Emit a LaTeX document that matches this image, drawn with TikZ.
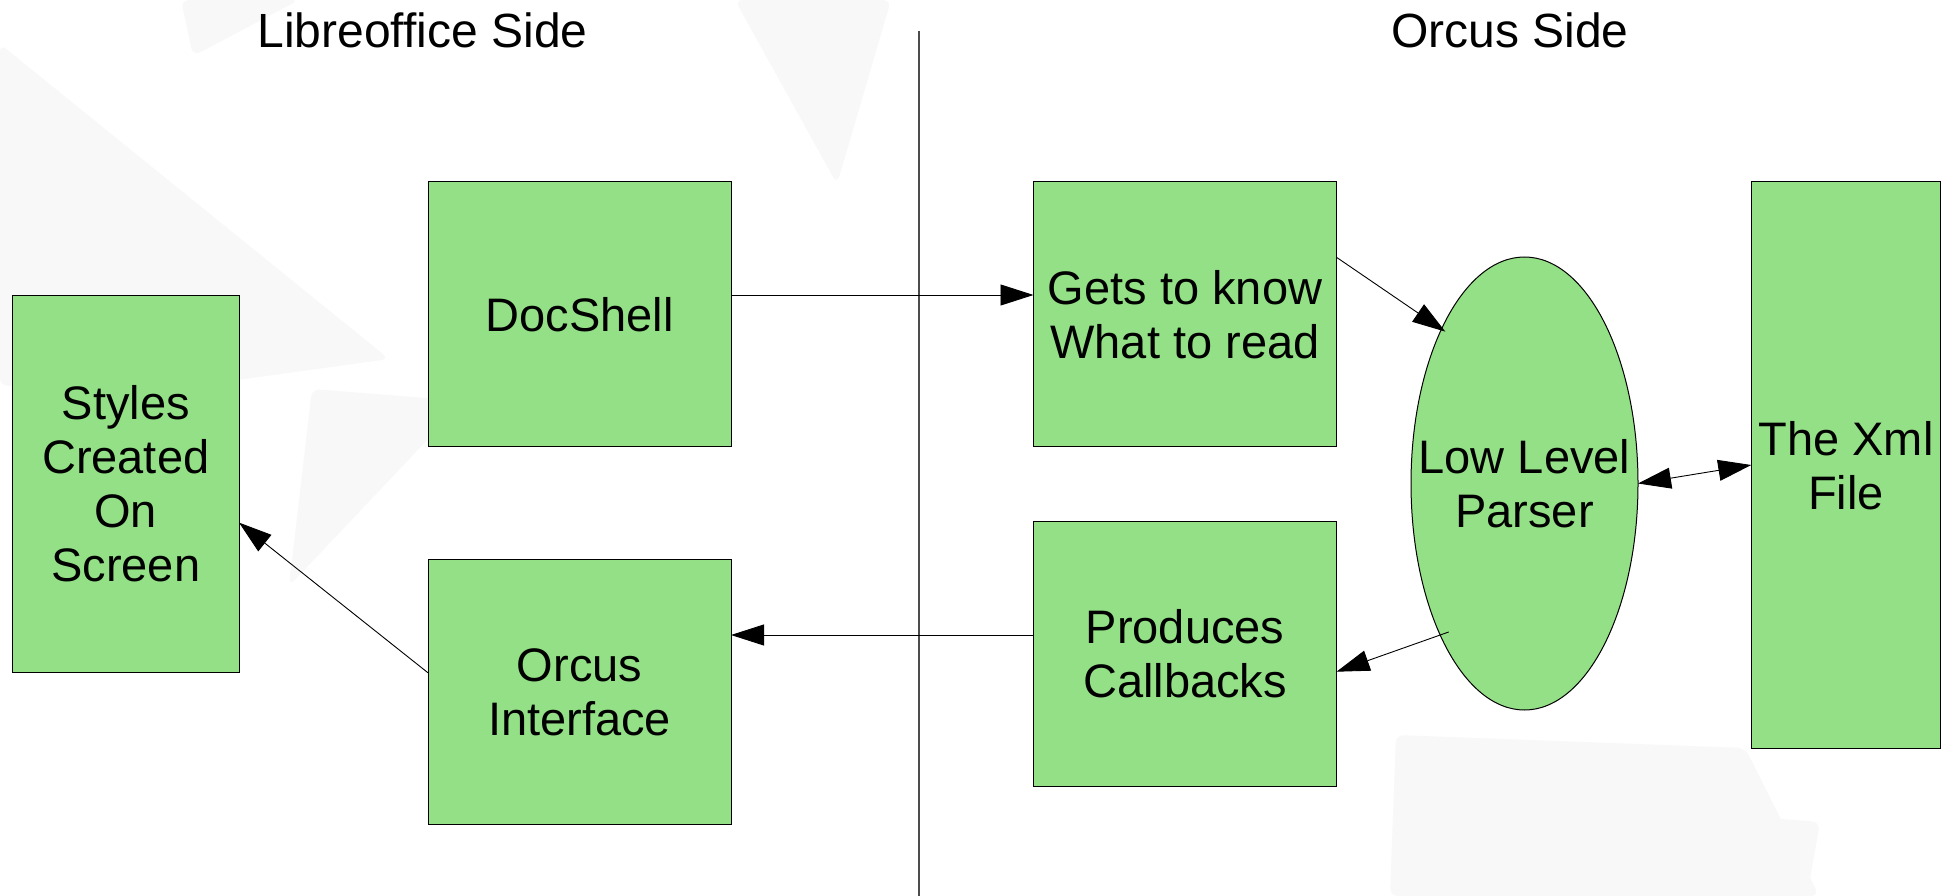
\documentclass[tikz,border=0pt]{standalone}
\usepackage{fontspec}
\setmainfont{Liberation Sans}
\usetikzlibrary{shapes.geometric,arrows.meta}
\definecolor{boxgreen}{RGB}{148,224,134}
\definecolor{bgshade}{RGB}{248,248,248}
\begin{document}
\begin{tikzpicture}[x=1pt,y=-1pt,
  >={Triangle[length=33pt,width=21pt]},
  box/.style={draw=black, line width=1pt, fill=boxgreen, rectangle, inner sep=0pt, outer sep=0pt,
    align=center, text depth=0pt, font=\fontsize{47}{54}\selectfont},
  lbl/.style={inner sep=0pt, align=center, text depth=0pt, font=\fontsize{47}{54}\selectfont},
  sidetitle/.style={inner sep=0pt, anchor=base, font=\fontsize{48}{56}\selectfont},
  conn/.style={draw=black, line width=0.9pt, ->},
  divider/.style={draw=black!70, line width=1.2pt},
  bgtri/.style={fill=bgshade, draw=none, rounded corners=8pt}]

\useasboundingbox (0,0) rectangle (1954,896);
\fill[white] (0,0) rectangle (1954,896);

% faint background shapes
\fill[bgtri] (181,0) -- (299,0) -- (193,56) -- cycle;
\fill[bgtri] (0,44) -- (389,359) -- (237,380) -- (0,386) -- cycle;
\fill[bgtri] (735,0) -- (891,0) -- (837,184) -- cycle;
\fill[bgtri] (312,389) -- (464,401) -- (289,586) -- cycle;
\fill[bgtri] (1396,735) -- (1745,748) -- (1819,896) -- (1390,896) -- cycle;
\fill[bgtri] (1509,798) -- (1820,822) -- (1807,896) -- (1509,896) -- cycle;

% divider
\coordinate (vtop) at (919,31);
\coordinate (vbot) at (919,896);
\draw[divider] (vtop) -- (vbot);

% titles
\node[sidetitle] (ltitle) at (422.5,48) {Libreoffice Side};
\node[sidetitle] (rtitle) at (1510,48) {Orcus Side};

% nodes
\node[box, minimum width=226.5pt, minimum height=377.7pt] (styles) at (125.75,483.9) {Styles\\Created\\On\\Screen};
\node[box, minimum width=303pt, minimum height=265.3pt] (doc) at (579.5,314.3) {DocShell};
\node[box, minimum width=303pt, minimum height=265pt] (oi) at (579.5,691.8) {Orcus\\Interface};
\node[box, minimum width=303pt, minimum height=265.3pt] (gets) at (1185,314.3) {Gets to know\\What to read};
\node[box, minimum width=303pt, minimum height=264.7pt] (prod) at (1185,653.7) {Produces\\Callbacks};
\node[draw=black, line width=1pt, fill=boxgreen, ellipse, inner sep=0pt, outer sep=0pt,
      minimum width=227pt, minimum height=453pt] (ell) at (1524.5,483.5) {};
\node[lbl] (elltext) at (ell.center) {Low Level\\Parser};
\node[box, minimum width=189.5pt, minimum height=566.6pt] (xml) at (1846,465) {The Xml\\File};

% connectors
\draw[conn] ([yshift=19.3pt]doc.east) -- ([yshift=19.3pt]gets.west);
\draw[conn] ([yshift=57pt]gets.east) -- ([xshift=5pt]ell.119);
\draw[conn, <->] (ell.east) -- (xml.west);
\draw[conn] ([xshift=10pt]ell.240) -- ([yshift=-18pt]prod.east);
\draw[conn] ([yshift=18.7pt]prod.west) -- ([yshift=56.8pt]oi.east);
\draw[conn] ([yshift=19pt]oi.west) -- ([yshift=-38.7pt]styles.east);
\end{tikzpicture}
\end{document}
